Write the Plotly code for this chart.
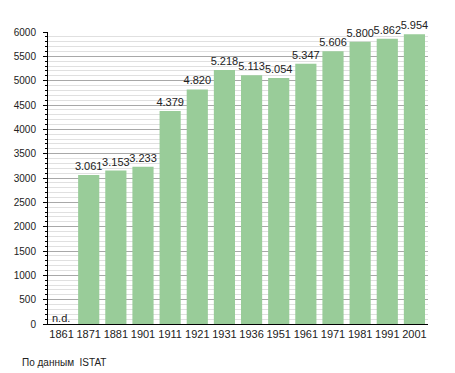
import plotly.graph_objects as go

years = ["1861", "1871", "1881", "1901", "1911", "1921", "1931", "1936",
         "1951", "1961", "1971", "1981", "1991", "2001"]
population = [None, 3061, 3153, 3233, 4379, 4820, 5218, 5113,
              5054, 5347, 5606, 5800, 5862, 5954]
labels = ["" if v is None else f"{v:,}".replace(",", ".") for v in population]

fig = go.Figure()
fig.add_trace(go.Bar(
    x=years, y=[0 if v is None else v for v in population],
    text=labels, textposition="outside", cliponaxis=False,
    constraintext="none",
    textfont=dict(size=11, color="#222"),
    marker=dict(color="#99cc99", line=dict(width=0)),
    width=0.78,
))

fig.add_annotation(x=0, y=0, text="n.d.", showarrow=False,
                   xanchor="left", yanchor="bottom", xshift=-12, yshift=-2,
                   font=dict(size=11, color="#222"))
fig.add_annotation(x=-0.074, y=-0.106, xref="paper", yref="paper",
                   text="По данным  ISTAT", showarrow=False,
                   xanchor="left", yanchor="top",
                   font=dict(size=10, color="#222"))

fig.update_layout(
    template="simple_white",
    width=447, height=365,
    margin=dict(l=40, r=27, t=24, b=49),
    paper_bgcolor="white", plot_bgcolor="white",
    font=dict(family="Liberation Sans, Arial, sans-serif", size=11, color="#222"),
    showlegend=False,
)
fig.update_xaxes(type="category", range=[-0.5, 13.5], automargin=False,
                 showline=True, linecolor="black", linewidth=1,
                 ticks="", showgrid=False, tickfont=dict(size=11))
fig.update_yaxes(range=[0, 6000], dtick=500, automargin=False, showline=True,
                 linecolor="black", linewidth=1, ticks="outside", ticklen=4,
                 tickcolor="black", showgrid=True, gridcolor="#a8a8a8", gridwidth=1,
                 zeroline=False, tickfont=dict(size=10), ticklabelstandoff=5,
                 minor=dict(dtick=100, showgrid=True, gridcolor="#e0e0e0",
                            ticks="outside", ticklen=2, tickcolor="black"))

fig.write_html("out.html")
